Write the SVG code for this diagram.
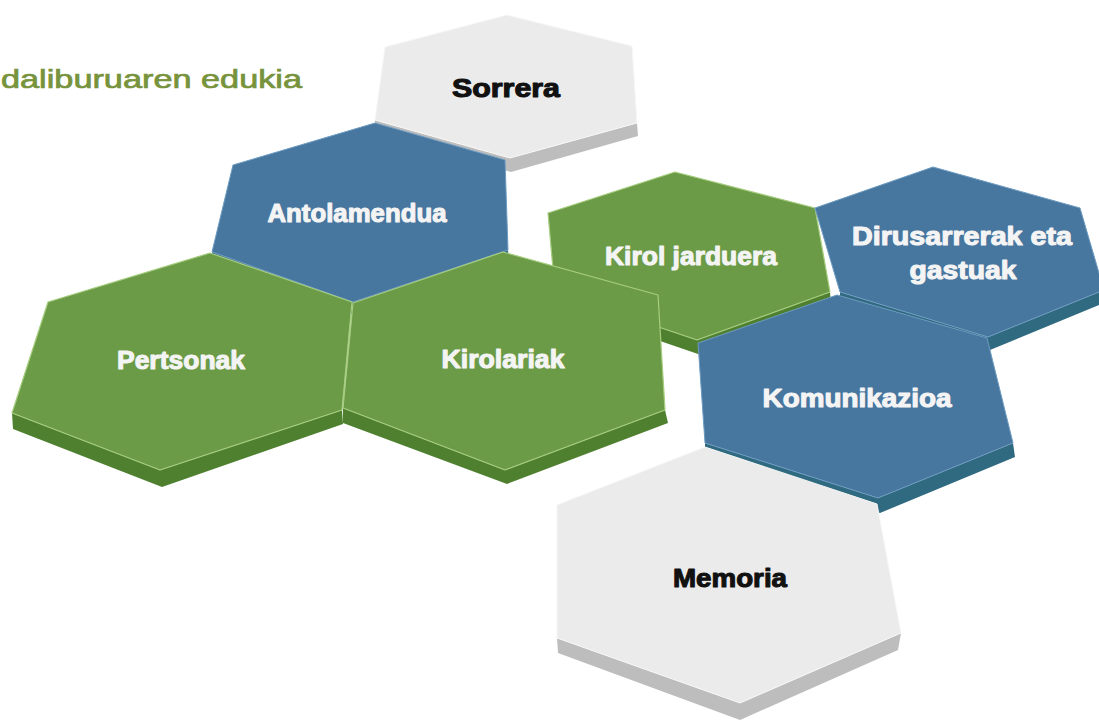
<svg xmlns="http://www.w3.org/2000/svg" width="1099" height="722" viewBox="0 0 1099 722">
<style>
.gf{fill:#6b9b46;stroke:#a6cd80;stroke-width:1.2;stroke-linejoin:round}
.gd{fill:#4f8030}
.bf{fill:#47769f;stroke:#6d9bc0;stroke-width:1;stroke-linejoin:round}
.bd{fill:#2f6a80}
.wf{fill:#ebebeb;stroke:#f7f7f7;stroke-width:1;stroke-linejoin:round}
.wd{fill:#bdbdbd}
.lbl{font-family:"Liberation Sans",Arial,sans-serif;font-weight:bold;font-size:26px;text-anchor:middle}
.lw{fill:#f4f4f4;stroke:#f4f4f4;stroke-width:1.1;stroke-linejoin:round}
.lk{fill:#111111;stroke:#111111;stroke-width:1.1;stroke-linejoin:round}
.title{font-family:"Liberation Sans",Arial,sans-serif;font-size:25px;fill:#77933c;stroke:#77933c;stroke-width:0.7}
</style>
<rect width="1099" height="722" fill="#ffffff"/>
<text class="title" x="1" y="88" textLength="301" lengthAdjust="spacingAndGlyphs">daliburuaren edukia</text>

<g id="sorrera">
<polygon class="wd" points="375,120 510,158 637,123 638,136 511,172 375,133"/>
<polygon class="wf" points="507,15 632,46 637,123 510,158 375,120 385,47"/>
<text class="lbl lk" x="506" y="97" font-size="27" textLength="108" lengthAdjust="spacingAndGlyphs">Sorrera</text>
</g>

<g id="antolamendua">
<polygon class="bd" points="212,252 353,302 508,250 509,263 353,315 212,265"/>
<polygon class="bf" points="375,123 505,160 508,250 353,302 212,252 233,165"/>
<text class="lbl lw" x="357" y="222" textLength="179" lengthAdjust="spacingAndGlyphs">Antolamendua</text>
</g>

<g id="kirol-jarduera">
<polygon class="gd" points="555,292 697,340 830,292 831,305 698,354 555,305"/>
<polygon class="gf" points="675,172 815,208 830,292 697,340 555,292 548,213"/>
<text class="lbl lw" x="691" y="265" textLength="172" lengthAdjust="spacingAndGlyphs">Kirol jarduera</text>
</g>

<g id="dirusarrerak">
<polygon class="bd" points="840,292 988,337 1104,290 1104,303 990,350 840,305"/>
<polygon class="bf" points="933,167 1080,208 1104,290 988,337 840,292 815,208"/>
<text class="lbl lw" x="962" y="245" textLength="220" lengthAdjust="spacingAndGlyphs">Dirusarrerak eta</text>
<text class="lbl lw" x="963" y="279" textLength="107" lengthAdjust="spacingAndGlyphs">gastuak</text>
</g>

<g id="pertsonak">
<polygon class="gd" points="12,413 160,470 342,410 343,424 162,487 13,429"/>
<polygon class="gf" points="210,253 352,302 342,410 160,470 12,413 48,302"/>
<text class="lbl lw" x="181" y="369" textLength="128" lengthAdjust="spacingAndGlyphs">Pertsonak</text>
</g>

<g id="kirolariak">
<polygon class="gd" points="343,408 505,470 665,410 668,423 507,484 343,423"/>
<polygon class="gf" points="503,252 658,295 665,410 505,470 343,408 353,303"/>
<text class="lbl lw" x="503" y="368" textLength="123" lengthAdjust="spacingAndGlyphs">Kirolariak</text>
</g>

<g id="komunikazioa">
<polygon class="bd" points="705,443 878,498 1013,443 1015,457 880,513 705,456"/>
<polygon class="bf" points="837,295 987,338 1013,443 878,498 705,443 698,343"/>
<text class="lbl lw" x="857" y="407" textLength="189" lengthAdjust="spacingAndGlyphs">Komunikazioa</text>
</g>

<g id="memoria">
<polygon class="wd" points="557,638 740,703 901,633 898,650 740,720 558,653"/>
<polygon class="wf" points="705,447 877,504 901,633 740,703 557,638 557,505"/>
<text class="lbl lk" x="730" y="587" textLength="114" lengthAdjust="spacingAndGlyphs">Memoria</text>
</g>
</svg>
